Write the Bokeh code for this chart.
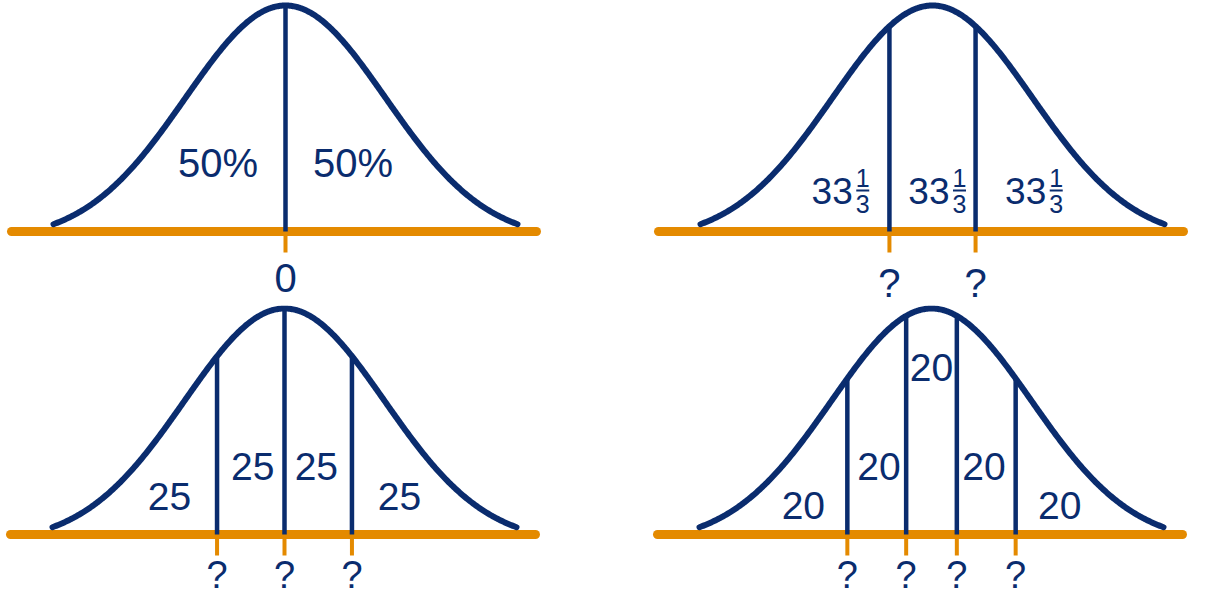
import math
import numpy as np
from bokeh.plotting import figure
from bokeh.layouts import column, row
from bokeh.embed import file_html
from bokeh.resources import INLINE
from bokeh.core.properties import value

# ---------------- data ----------------
cut_probs_a = [0.5]
cut_probs_b = [1 / 3, 2 / 3]
cut_probs_c = [0.25, 0.5, 0.75]
cut_probs_d = [0.2, 0.4, 0.6, 0.8]

region_labels_a = ["50%", "50%"]
region_labels_b = ["33", "33", "33"]          # each followed by the fraction 1/3
fraction_num = "1"
fraction_den = "3"
region_labels_c = ["25", "25", "25", "25"]
region_labels_d = ["20", "20", "20", "20", "20"]

tick_labels_a = ["0"]
tick_labels_b = ["?", "?"]
tick_labels_c = ["?", "?", "?"]
tick_labels_d = ["?", "?", "?", "?"]

# ---------------- style / layout ----------------
NAVY = "#0a2c6e"
ORANGE = "#e48a00"
FONT = "Liberation Sans"

FIG_W = 595
ROW_H = [305, 291]
COL_X = [(0, 595), (609, 1204)]      # reference-px window shown by each column
ROW_Y = [(0, 305), (319, 610)]       # reference-px window shown by each row
SIG = 100.0             # px per standard deviation
K = 234.6               # px per unit of curve height
OFF = 8.6               # curve foot sits this far above the axis line
Z_MAX = 2.32
AXIS_L, AXIS_R = -2.74, 2.51
TICK_LEN = 21.0


def norm_cdf(z):
    return 0.5 * (1 + math.erf(z / math.sqrt(2)))


def norm_ppf(p):
    lo, hi = -8.0, 8.0
    for _ in range(80):
        mid = 0.5 * (lo + hi)
        if norm_cdf(mid) < p:
            lo = mid
        else:
            hi = mid
    return 0.5 * (lo + hi)


def txt(p, x, y, labels, size, align="center"):
    p.text(x=x, y=y, text=labels, text_font=value(FONT),
           text_font_size=value(f"{size}px"), text_color=NAVY,
           text_align=align, text_baseline="middle")


def make_panel(col, rw, cx, base_ref, cut_probs, region_labels, label_centers,
               label_size, tick_labels, tick_label_center, tick_size, fraction=False):
    yb0 = base_ref + OFF
    x0 = (COL_X[col][0] - cx) / SIG
    x1 = (COL_X[col][1] - cx) / SIG
    y_top = (yb0 - ROW_Y[rw][0]) / K
    y_bot = (yb0 - ROW_Y[rw][1]) / K

    def ry(ref_y):
        return (yb0 - ref_y) / K

    p = figure(width=FIG_W, height=ROW_H[rw], x_range=(x0, x1), y_range=(y_bot, y_top),
               output_backend="svg", toolbar_location=None, min_border=0,
               x_axis_type=None, y_axis_type=None, outline_line_color=None)
    p.grid.visible = False
    p.background_fill_color = "white"
    p.border_fill_color = "white"

    y_axis = ry(base_ref)
    # orange axis line
    p.line([AXIS_L, AXIS_R], [y_axis, y_axis], line_color=ORANGE, line_width=9,
           line_cap="round")
    cuts = [norm_ppf(q) for q in cut_probs]
    # orange ticks
    p.segment(x0=cuts, y0=[y_axis] * len(cuts), x1=cuts,
              y1=[ry(base_ref + TICK_LEN)] * len(cuts),
              line_color=ORANGE, line_width=4)
    # curve
    z = np.linspace(-Z_MAX, Z_MAX, 400)
    p.line(z, np.exp(-z ** 2 / 2), line_color=NAVY, line_width=6, line_cap="round",
           line_join="round")
    # dividers
    p.segment(x0=cuts, y0=[y_axis] * len(cuts), x1=cuts,
              y1=[math.exp(-c ** 2 / 2) for c in cuts],
              line_color=NAVY, line_width=4.5)
    # tick labels
    txt(p, cuts, [ry(tick_label_center)] * len(cuts), tick_labels, tick_size)
    # region labels at the middle probability of each region
    edges = [0.0] + list(cut_probs) + [1.0]
    mids = [norm_ppf(0.5 * (edges[i] + edges[i + 1])) for i in range(len(edges) - 1)]
    if not fraction:
        txt(p, mids, [ry(c) for c in label_centers], region_labels, label_size)
    else:
        n = len(mids)
        xs_int = [m + 17 / SIG for m in mids]
        xs_frac = [m + 27 / SIG for m in mids]
        txt(p, xs_int, [ry(label_centers[0])] * n, region_labels, label_size, "right")
        txt(p, xs_frac, [ry(177)] * n, [fraction_num] * n, 25)
        txt(p, xs_frac, [ry(203)] * n, [fraction_den] * n, 25)
        p.segment(x0=[x - 6.5 / SIG for x in xs_frac], y0=[ry(190)] * n,
                  x1=[x + 6.5 / SIG for x in xs_frac], y1=[ry(190)] * n,
                  line_color=NAVY, line_width=2)
    return p


p1 = make_panel(0, 0, 285, 231, cut_probs_a, region_labels_a, [162.5, 162.5], 40,
                tick_labels_a, 277, 40)
p2 = make_panel(1, 0, 946, 231, cut_probs_b, region_labels_b, [190], 37,
                tick_labels_b, 282, 40, fraction=True)
p3 = make_panel(0, 1, 284, 548, cut_probs_c, region_labels_c, [510, 480, 480, 510], 39,
                tick_labels_c, 588, 38)
p4 = make_panel(1, 1, 945, 548, cut_probs_d, region_labels_d,
                [519, 480, 381, 480, 519], 39, tick_labels_d, 588, 38)

layout = column(row(p1, p2), row(p3, p4))
open("out.html", "w").write(file_html(layout, INLINE))
